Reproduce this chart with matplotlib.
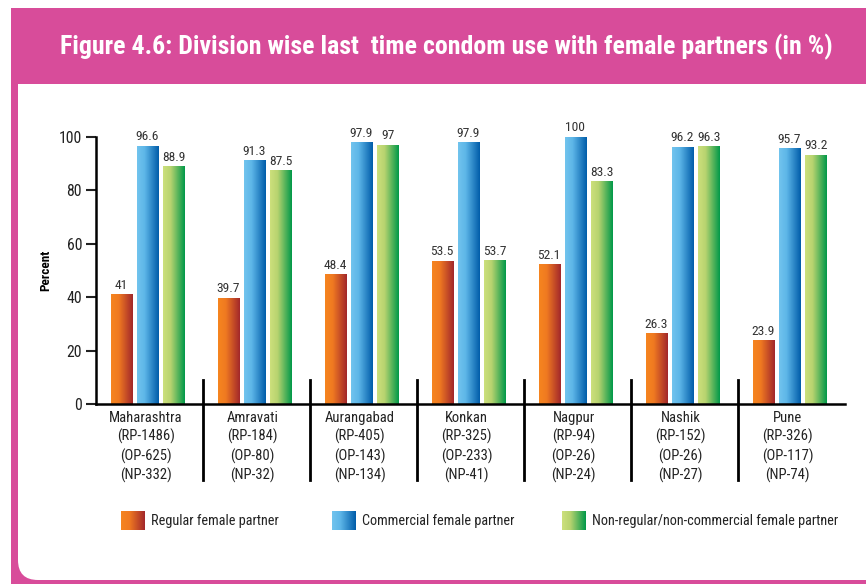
import numpy as np
import matplotlib
matplotlib.use("Agg")
import matplotlib.pyplot as plt
from matplotlib import font_manager
from matplotlib.colors import LinearSegmentedColormap
from matplotlib.patches import Rectangle, FancyBboxPatch
import matplotlib.transforms as mtransforms

# ---------------- data ----------------
divisions = ["Maharashtra", "Amravati", "Aurangabad", "Konkan", "Nagpur", "Nashik", "Pune"]
rp_counts = ["1486", "184", "405", "325", "94", "152", "326"]
op_counts = ["625", "80", "143", "233", "26", "26", "117"]
np_counts = ["332", "32", "134", "41", "24", "27", "74"]
regular = [41, 39.7, 48.4, 53.5, 52.1, 26.3, 23.9]
commercial = [96.6, 91.3, 97.9, 97.9, 100, 96.2, 95.7]
nonregular = [88.9, 87.5, 97, 53.7, 83.3, 96.3, 93.2]
series_names = ["Regular female partner", "Commercial female partner",
                "Non-regular/non-commercial female partner"]
yticks = [0, 20, 40, 60, 80, 100]
title = "Figure 4.6: Division wise last  time condom use with female partners (in %)"

# ---------------- fonts ----------------
names = sorted({f.name for f in font_manager.fontManager.ttflist})
narrow = [n for n in names if ("Narrow" in n or "Condensed" in n)]
preferred = ["Liberation Sans Narrow", "Roboto Condensed", "DejaVu Sans Condensed",
             "Open Sans Condensed", "Noto Sans Condensed"]
FONT = None
for p in preferred:
    if p in names:
        FONT = p
        break
if FONT is None and narrow:
    FONT = narrow[0]
if FONT is None:
    FONT = "Liberation Sans"
IS_NARROW = ("Narrow" in FONT or "Condensed" in FONT)
plt.rcParams["font.family"] = [FONT, "DejaVu Sans"]
sc = 1.0 if IS_NARROW else 0.88   # shrink wide fonts to match the condensed original

W, H = 866, 584
fig = plt.figure(figsize=(W / 100, H / 100), dpi=100)

# ---------------- background frame ----------------
bg = fig.add_axes([0, 0, 1, 1], zorder=-10)
bg.set_xlim(0, W)
bg.set_ylim(H, 0)
bg.axis("off")
PINK = "#d84c9a"
bg.add_patch(Rectangle((11, 8), W, H, facecolor=PINK, edgecolor="none"))
bg.add_patch(FancyBboxPatch((18 + 20, 84 + 20), W + 40 - 40, 580 - 84 - 40,
                            boxstyle="round,pad=20", facecolor="white", edgecolor="none"))
bg.add_patch(Rectangle((18, 84), W, 460, facecolor="white", edgecolor="none"))
bg.text(446, 47, title, color="white",
        fontsize=(18.6 if IS_NARROW else 15.5), fontweight="bold",
        ha="center", va="center")

# ---------------- gradients ----------------
cmaps = [
    LinearSegmentedColormap.from_list("o", [(0, "#f6851f"), (0.35, "#f07a21"), (1, "#a2272b")]),
    LinearSegmentedColormap.from_list("b", [(0, "#72c4ee"), (0.35, "#5db6e8"), (1, "#005ca9")]),
    LinearSegmentedColormap.from_list("g", [(0, "#cde07c"), (0.35, "#b7d36f"), (1, "#009849")]),
]
grad = np.linspace(0, 1, 256).reshape(1, -1)

# ---------------- main axes ----------------
ax = fig.add_axes([96 / W, 180 / H, (845 - 96) / W, 267 / H])
x = np.arange(len(divisions))
centers = x + 0.48
width = 0.197
step = 0.245
all_series = [regular, commercial, nonregular]
for k, vals in enumerate(all_series):
    pos = centers + (k - 1) * step
    bars = ax.bar(pos, vals, width=width, color="none", edgecolor="none")
    for b, v in zip(bars, vals):
        x0, x1 = b.get_x(), b.get_x() + b.get_width()
        ax.imshow(grad, cmap=cmaps[k], extent=[x0, x1, 0, b.get_height()],
                  aspect="auto", zorder=2, interpolation="bilinear")
        ax.text(b.get_x() + b.get_width() / 2, v + 1.0, f"{v:g}", ha="center",
                va="bottom", fontsize=9.7 * sc, color="#333333", clip_on=False)

ax.set_xlim(0, len(divisions))
ax.set_ylim(0, 100)
for s in ["top", "right"]:
    ax.spines[s].set_visible(False)
ax.spines["left"].set_linewidth(1.8)
ax.spines["bottom"].set_linewidth(1.8)
ax.spines["left"].set_zorder(5)
ax.spines["bottom"].set_zorder(5)
ax.set_yticks(yticks)
ax.tick_params(axis="y", length=7, width=1.5, labelsize=11.3 * sc, pad=3, colors="#222222")
labels = [f"{d}\n(RP-{r})\n(OP-{o})\n(NP-{n})"
          for d, r, o, n in zip(divisions, rp_counts, op_counts, np_counts)]
ax.set_xticks(x + 0.465)
ax.set_xticklabels(labels, fontsize=10.5 * sc, linespacing=1.35, color="#222222")
ax.tick_params(axis="x", length=0, pad=5)
ax.set_ylabel("Percent", fontsize=9.5, fontweight="bold")
ax.yaxis.set_label_coords(-0.059, 0.5)

trans = mtransforms.blended_transform_factory(ax.transData, ax.transAxes)
for i in range(1, len(divisions)):
    ax.plot([i, i], [0.09, -0.285], transform=trans, color="black", lw=2,
            clip_on=False, zorder=6)

# ---------------- legend ----------------
leg_x = [121, 332, 562]
for k, name in enumerate(series_names):
    lx = leg_x[k]
    sw = fig.add_axes([lx / W, (H - 530) / H, 24 / W, 19 / H])
    sw.imshow(grad, cmap=cmaps[k], aspect="auto", interpolation="bilinear")
    sw.axis("off")
    fig.text((lx + 30) / W, (H - 521) / H, name, fontsize=10.3 * sc * (0.98 if not IS_NARROW else 1),
             color="#222222", ha="left", va="center")

fig.savefig("out.png", dpi=100)
